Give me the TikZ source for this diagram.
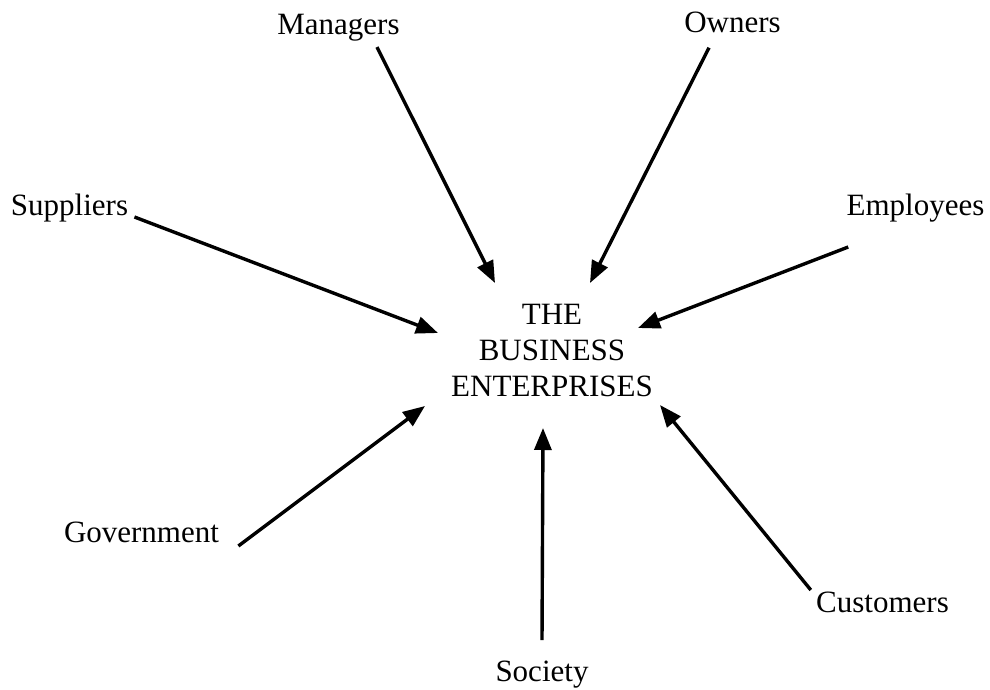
\documentclass[tikz,border=0pt]{standalone}
\usepackage{fontspec}
\setmainfont{Liberation Serif}
\usepackage{tikz}
\usetikzlibrary{arrows.meta}

\begin{document}
\begin{tikzpicture}[
    x=0.5pt, y=-0.5pt,
    lab/.style={inner sep=0pt,anchor=base,font=\fontsize{15.5pt}{18pt}\selectfont},
    hub/.style={inner sep=0pt,align=center,font=\fontsize{15.5pt}{18pt}\selectfont},
    feed/.style={-{Triangle[length=11pt,width=8.5pt]},line width=1.7pt,black}]

  \useasboundingbox (0,0) rectangle (990,690);

  % ---- the enterprise in the middle ----
  \node[hub] (biz) at (552,350) {THE\\BUSINESS\\ENTERPRISES};

  % ---- the stakeholders round it ----
  \node[lab] (man) at (338.5,35)  {Managers};
  \node[lab] (own) at (732.5,33)  {Owners};
  \node[lab] (sup) at (69.5,215)  {Suppliers};
  \node[lab] (emp) at (915.5,215) {Employees};
  \node[lab] (gov) at (141.5,542) {Government};
  \node[lab] (cus) at (882.5,612) {Customers};
  \node[lab] (soc) at (542,681)   {Society};

  % ---- where each arrow stops, short of the text ----
  \coordinate (man-in) at (495,283);
  \coordinate (own-in) at (590,283);
  \coordinate (sup-in) at (438,333);
  \coordinate (emp-in) at (638,328);
  \coordinate (gov-in) at (425,406);
  \coordinate (cus-in) at (660,405);
  \coordinate (soc-in) at (543,428);

  \draw[feed] ([shift={(38.5,5)}]man.south)     -- (man-in);
  \draw[feed] ([shift={(-23.5,14)}]own.south)   -- (own-in);
  \draw[feed] ([shift={(6,2)}]sup.base east)    -- (sup-in);
  \draw[feed] ([shift={(2,32)}]emp.base west)   -- (emp-in);
  \draw[feed] ([shift={(19,4)}]gov.base east)   -- (gov-in);
  \draw[feed] ([shift={(-5,-22)}]cus.base west) -- (cus-in);
  \draw[feed] ([shift={(0,-41)}]soc.base)       -- (soc-in);
\end{tikzpicture}
\end{document}
